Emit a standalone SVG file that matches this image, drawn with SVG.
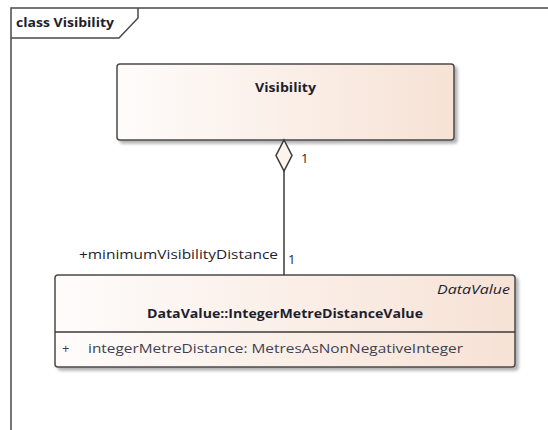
<svg xmlns="http://www.w3.org/2000/svg" width="548" height="430" viewBox="0 0 548 430">
<defs>
<linearGradient id="g" x1="0" y1="0" x2="1" y2="0">
<stop offset="0" stop-color="#fefcfb"/>
<stop offset="1" stop-color="#f7e2d5"/>
</linearGradient>
<filter id="sh" x="-5%" y="-10%" width="115%" height="130%">
<feGaussianBlur in="SourceAlpha" stdDeviation="1.5"/>
<feOffset dx="3" dy="3"/>
<feComponentTransfer><feFuncA type="linear" slope="0.3"/></feComponentTransfer>
<feMerge><feMergeNode/><feMergeNode in="SourceGraphic"/></feMerge>
</filter>
</defs>
<style>
.box{fill:url(#g);stroke:#4a4a4a;stroke-width:1.5}
.t{font-family:"Open Sans","Noto Sans","DejaVu Sans",sans-serif;fill:#1e1e2e}
.b{font-weight:bold;font-size:13px}
.s{font-size:13px}
.line{stroke:#3a3a3a;stroke-width:1.5;fill:none}
</style>
<rect width="548" height="430" fill="#ffffff"/>
<g id="frame">
<path d="M11,430 V8 H548" fill="none" stroke="#4a4a4a" stroke-width="1.5"/>
<path d="M11,38 H119 L138,18 V8" fill="none" stroke="#4a4a4a" stroke-width="1.5"/>
<text class="t b" x="16" y="27" font-size="12" textLength="98" lengthAdjust="spacingAndGlyphs">class Visibility</text>
</g>
<g id="node-visibility">
<rect class="box" x="117" y="64" width="337" height="76" rx="3" filter="url(#sh)"/>
<text class="t b" x="255" y="92" textLength="61" lengthAdjust="spacingAndGlyphs">Visibility</text>
</g>
<g id="node-integermetredistancevalue">
<rect class="box" x="55" y="275" width="460" height="92" rx="3" filter="url(#sh)"/>
<line x1="55" y1="332" x2="515" y2="332" stroke="#3a3a3a" stroke-width="1.5"/>
<text class="t s" x="437" y="294" font-style="italic" textLength="73" lengthAdjust="spacingAndGlyphs">DataValue</text>
<text class="t b" x="147" y="318" textLength="276" lengthAdjust="spacingAndGlyphs">DataValue::IntegerMetreDistanceValue</text>
<text class="t s" x="62" y="353" style="fill:#404050">+</text>
<text class="t s" x="88" y="353" style="fill:#404050" textLength="375" lengthAdjust="spacingAndGlyphs">integerMetreDistance: MetresAsNonNegativeInteger</text>
</g>
<g id="connectors">
<line class="line" x1="284" y1="171" x2="284" y2="275"/>
<path d="M284,140 L292,155.5 L284,171 L276,155.5 Z" fill="#fbf3ec" stroke="#3a3a3a" stroke-width="1.5"/>
<text class="t s" x="301" y="163">1</text>
<text class="t s" x="288" y="264">1</text>
<text class="t s" x="79" y="259" textLength="199" lengthAdjust="spacingAndGlyphs">+minimumVisibilityDistance</text>
</g>
</svg>
